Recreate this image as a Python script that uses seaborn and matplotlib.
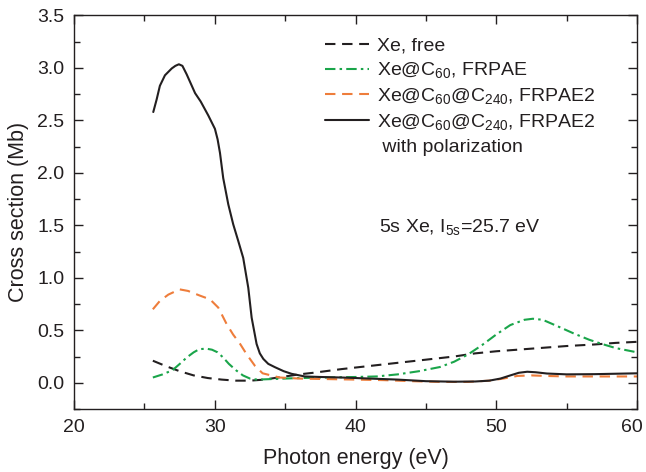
import pandas as pd
import numpy as np

import seaborn as sns
import matplotlib.pyplot as plt
from matplotlib.lines import Line2D
from matplotlib.ticker import MultipleLocator, FuncFormatter

sns.set_style('ticks')
plt.rcParams['font.family'] = ['Liberation Sans', 'DejaVu Sans']
plt.rcParams.update({'mathtext.fontset': 'custom',
                     'mathtext.rm': 'Liberation Sans',
                     'mathtext.it': 'Liberation Sans:italic',
                     'mathtext.bf': 'Liberation Sans:bold'})

# Xe, free
free_x = [25.6, 26.5, 27.5, 28.5, 29.5, 30.5, 31.5, 32.5, 33.5, 35, 36, 37, 39, 41, 43,
          45, 47, 48.5, 50, 51.5, 53, 55, 57, 58.5, 60]
free_y = [0.21, 0.16, 0.11, 0.07, 0.045, 0.03, 0.02, 0.02, 0.03, 0.06, 0.08, 0.095, 0.13,
          0.16, 0.19, 0.22, 0.25, 0.28, 0.30, 0.315, 0.33, 0.35, 0.365, 0.38, 0.39]

# Xe@C60, FRPAE
c60_x = [25.6, 26.3, 27.0, 27.6, 28.0, 28.5, 28.9, 29.4, 29.8, 30.2, 30.6, 31.0, 31.5, 32.0,
         32.5, 33.0, 34, 36, 38, 40, 41.5, 43, 44.5, 46, 47, 48, 49, 50, 51, 52, 52.6,
         53.3, 54.5, 55.5, 56.6, 57.5, 58.5, 60]
c60_y = [0.05, 0.08, 0.12, 0.19, 0.24, 0.29, 0.32, 0.325, 0.315, 0.29, 0.24, 0.18, 0.12, 0.07,
         0.04, 0.03, 0.035, 0.045, 0.05, 0.055, 0.06, 0.08, 0.11, 0.15, 0.20, 0.27, 0.36,
         0.46, 0.55, 0.60, 0.61, 0.60, 0.53, 0.47, 0.41, 0.37, 0.33, 0.29]

# Xe@C60@C240, FRPAE2
c240_x = [25.6, 26.1, 26.7, 27.5, 28.1, 28.95, 29.66, 30.25, 30.84, 31.3, 31.8, 32.27, 32.86,
          33.4, 34.6, 36, 38, 40, 42, 44, 46, 48, 49.5, 50.5, 51.5, 52.5, 53.5, 55, 57, 60]
c240_y = [0.70, 0.78, 0.84, 0.89, 0.875, 0.83, 0.795, 0.716, 0.56, 0.46, 0.37, 0.27, 0.16,
          0.09, 0.05, 0.04, 0.035, 0.03, 0.025, 0.015, 0.008, 0.008, 0.02, 0.04, 0.065, 0.07,
          0.065, 0.06, 0.06, 0.06]

# Xe@C60@C240, FRPAE2 with polarization
pol_x = [25.63, 25.87, 26.1, 26.46, 26.94, 27.2, 27.45, 27.7, 28.0, 28.3, 28.6, 29.0, 29.54,
         30.01, 30.2, 30.37, 30.6, 30.96, 31.31, 31.67, 32.02, 32.38, 32.62, 32.97, 33.2,
         33.45, 33.8, 34.28, 34.9, 35.46, 36.4, 37.5, 39, 41, 43, 45, 47, 48.5, 49.5, 50.3,
         51.0, 51.6, 52.2, 52.8, 53.6, 55, 57, 60]
pol_y = [2.58, 2.70, 2.83, 2.93, 2.995, 3.02, 3.035, 3.02, 2.94, 2.85, 2.76, 2.68, 2.547,
         2.42, 2.32, 2.19, 1.95, 1.70, 1.51, 1.35, 1.19, 0.905, 0.62, 0.37, 0.28,
         0.227, 0.18, 0.148, 0.11, 0.085, 0.06, 0.055, 0.05, 0.04, 0.03, 0.015, 0.01, 0.012,
         0.02, 0.04, 0.07, 0.095, 0.105, 0.10, 0.088, 0.08, 0.082, 0.09]

x_max = 60

dark = '#231f20'
green = '#1aa54a'
orange = '#ee7d3b'

fig = plt.figure(figsize=(6.46, 4.72), dpi=100)
ax = fig.add_axes([0.1146, 0.1335, 0.8715, 0.8337])

series = [
    (free_x, free_y, dark, (5, 3.2), 'Xe, free'),
    (c60_x, c60_y, green, (5, 2, 1.2, 2), r'Xe@C$_\mathrm{60}$, FRPAE'),
    (c240_x, c240_y, orange, (5, 3.2), r'Xe@C$_\mathrm{60}$@C$_\mathrm{240}$, FRPAE2'),
    (pol_x, pol_y, dark, None, r'Xe@C$_\mathrm{60}$@C$_\mathrm{240}$, FRPAE2'),
]
handles = []
for x, y, col, dash, lab in series:
    df = pd.DataFrame({'x': x, 'y': y})
    sns.lineplot(data=df, x='x', y='y', ax=ax, color=col, lw=1.5, sort=False)
    ln = ax.lines[-1]
    ln.set_solid_joinstyle('round')
    ln.set_dash_joinstyle('round')
    if dash is not None:
        ln.set_dashes(dash)
    handles.append(Line2D([], [], color=col, lw=1.5,
                          dashes=dash if dash is not None else (None, None),
                          label=lab))
handles.append(Line2D([], [], color='none', label=' with polarization'))

leg = ax.legend(handles=handles, loc='upper left', bbox_to_anchor=(0.421, 0.98),
                frameon=False, fontsize=14, handlelength=2.3, handletextpad=0.4,
                labelspacing=0.3, borderpad=0.2)
for t in leg.get_texts():
    t.set_color(dark)

ax.text(41.7, 1.48, r'5s Xe, I$_\mathrm{5s}$=25.7 eV', fontsize=14, color=dark,
        va='center', ha='left')

ax.set_xlim(20, x_max)
ax.set_ylim(-0.25, 3.5)
ax.xaxis.set_major_locator(MultipleLocator(10))
ax.xaxis.set_minor_locator(MultipleLocator(5))
# last label is drawn separately, nudged left so it is not cut at the edge
ax.xaxis.set_major_formatter(FuncFormatter(lambda v, p: '' if v >= x_max else '%d' % v))
ax.yaxis.set_major_locator(MultipleLocator(0.5))
ax.yaxis.set_minor_locator(MultipleLocator(0.25))
ax.yaxis.set_major_formatter(plt.FormatStrFormatter('%.1f'))
ax.tick_params(which='both', direction='in', top=True, right=True, colors=dark,
               labelsize=14, width=1)
ax.tick_params(which='major', length=6.5, pad=7)
ax.tick_params(which='minor', length=4)
ax.annotate('%d' % x_max, xy=(x_max, 0), xycoords=('data', 'axes fraction'),
            xytext=(-3.5, -7), textcoords='offset points', ha='center', va='top',
            fontsize=14, color=dark)
for s in ax.spines.values():
    s.set_color(dark)
    s.set_linewidth(1)
ax.set_xlabel('Photon energy (eV)', fontsize=15.5, color=dark, labelpad=9)
ax.set_ylabel('Cross section (Mb)', fontsize=15.5, color=dark, labelpad=6)

plt.savefig('out.png', dpi=100)
